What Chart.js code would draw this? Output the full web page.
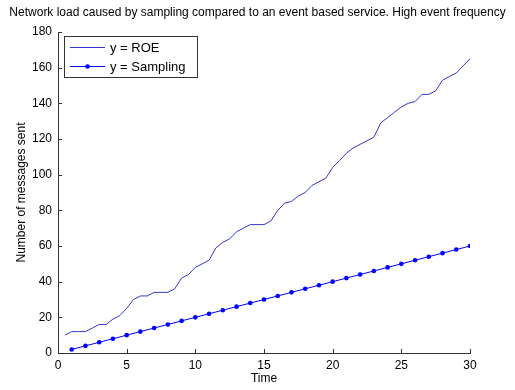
<!DOCTYPE html>
<html>
<head>
<meta charset="utf-8">
<script src="https://cdn.jsdelivr.net/npm/chart.js@4"></script>
<style>
  html, body { margin: 0; padding: 0; background: #fff; }
  #Grafico { display: block; }
</style>
</head>
<body>
<canvas id="Grafico" width="515" height="390"></canvas>
<script>
const Titulo      = 'Network load caused by sampling compared to an event based service. High event frequency';
const EtiquetaX   = 'Time';
const EtiquetaY   = 'Number of messages sent';
const NombreROE   = 'y = ROE';
const NombreMuestreo = 'y = Sampling';

// Serie ROE (cada 0.5)
const TiempoROE = [0.5, 1, 1.5, 2, 2.5, 3, 3.5, 4, 4.5, 5, 5.5, 6, 6.5, 7, 7.5, 8, 8.5, 9, 9.5, 10,
                   10.5, 11, 11.5, 12, 12.5, 13, 13.5, 14, 14.5, 15, 15.5, 16, 16.5, 17, 17.5, 18, 18.5, 19, 19.5, 20,
                   20.5, 21, 21.5, 22, 22.5, 23, 23.5, 24, 24.5, 25, 25.5, 26, 26.5, 27, 27.5, 28, 28.5, 29, 29.5, 30];
const ValoresROE = [10, 12, 12, 12, 14, 16, 16, 19, 21, 25, 30, 32, 32, 34, 34, 34, 36, 42, 44, 48,
                    50, 52, 59, 62, 64, 68, 70, 72, 72, 72, 74, 80, 84, 85, 88, 90, 94, 96, 98, 104,
                    108, 112, 115, 117, 119, 121, 129, 132, 135, 138, 140, 141, 145, 145, 147, 153, 155, 157, 161, 165];

// Serie Sampling
const TiempoMuestreo  = [1, 2, 3, 4, 5, 6, 7, 8, 9, 10, 11, 12, 13, 14, 15, 16, 17, 18, 19, 20,
                         21, 22, 23, 24, 25, 26, 27, 28, 29, 30];
const ValoresMuestreo = [2, 4, 6, 8, 10, 12, 14, 16, 18, 20, 22, 24, 26, 28, 30, 32, 34, 36, 38, 40,
                         42, 44, 46, 48, 50, 52, 54, 56, 58, 60];

const LimitesX = [0, 30, 5];
const LimitesY = [0, 180, 20];

const Fuente     = '"Liberation Sans", Arial, sans-serif';
const ColorEje   = '#333';
const ColorROE   = '#3535d5';
const ColorSerie = '#0000ff';

// Titulo centrado en todo el lienzo
const TituloCentrado = {
  id: 'TituloCentrado',
  afterDraw(Chart_) {
    const { ctx, width } = Chart_;
    ctx.save();
    ctx.fillStyle = '#000';
    ctx.font = `12px ${Fuente}`;
    ctx.textAlign = 'center';
    ctx.textBaseline = 'middle';
    ctx.fillText(Titulo, width / 2, 13, 507);
    ctx.restore();
  }
};

// Marcas hacia adentro, estilo MATLAB
const MarcasInternas = {
  id: 'MarcasInternas',
  afterDatasetsDraw(Chart_) {
    const { ctx, scales: { x, y } } = Chart_;
    ctx.save();
    ctx.strokeStyle = ColorEje;
    ctx.lineWidth = 1;
    ctx.beginPath();
    x.ticks.forEach(T => {
      const Px = Math.round(x.getPixelForValue(T.value)) + 0.5;
      ctx.moveTo(Px, x.top);
      ctx.lineTo(Px, x.top - 4);
    });
    y.ticks.forEach(T => {
      const Py = Math.round(y.getPixelForValue(T.value)) + 0.5;
      ctx.moveTo(y.right, Py);
      ctx.lineTo(y.right + 4, Py);
    });
    ctx.stroke();
    ctx.restore();
  }
};

// Leyenda dentro del area del grafico
const LeyendaInterna = {
  id: 'LeyendaInterna',
  afterDraw(Chart_) {
    const { ctx, chartArea } = Chart_;
    const X = Math.round(chartArea.left) + 6;
    const Y = Math.round(chartArea.top) + 4;
    const W = 133, H = 41;
    ctx.save();
    ctx.fillStyle = '#fff';
    ctx.fillRect(X, Y, W, H);
    ctx.strokeStyle = ColorEje;
    ctx.lineWidth = 1;
    ctx.strokeRect(X + 0.5, Y + 0.5, W, H);
    Chart_.data.datasets.forEach((D, I) => {
      const Fy = Y + 11 + I * 19;
      ctx.strokeStyle = D.borderColor;
      ctx.beginPath();
      ctx.moveTo(X + 6, Fy + 0.5);
      ctx.lineTo(X + 41, Fy + 0.5);
      ctx.stroke();
      if (D.pointRadius > 0) {
        ctx.fillStyle = D.pointBackgroundColor;
        ctx.beginPath();
        ctx.arc(X + 23.5, Fy + 0.5, D.pointRadius, 0, Math.PI * 2);
        ctx.fill();
      }
      ctx.fillStyle = '#000';
      ctx.font = `13px ${Fuente}`;
      ctx.textBaseline = 'middle';
      ctx.textAlign = 'left';
      ctx.fillText(D.label, X + 46, Fy + 1);
    });
    ctx.restore();
  }
};

new Chart(document.getElementById('Grafico').getContext('2d'), {
  type: 'line',
  data: {
    datasets: [
      {
        label: NombreROE,
        data: TiempoROE.map((T, I) => ({ x: T, y: ValoresROE[I] })),
        borderColor: ColorROE,
        borderWidth: 1,
        pointRadius: 0,
        tension: 0
      },
      {
        label: NombreMuestreo,
        data: TiempoMuestreo.map((T, I) => ({ x: T, y: ValoresMuestreo[I] })),
        borderColor: ColorSerie,
        borderWidth: 1,
        pointRadius: 2.3,
        pointBackgroundColor: ColorSerie,
        pointBorderWidth: 0,
        tension: 0
      }
    ]
  },
  options: {
    responsive: false,
    animation: false,
    devicePixelRatio: 1,
    layout: { padding: { left: 0, right: 45, top: 32, bottom: 0 } },
    plugins: {
      legend: { display: false },
      tooltip: { enabled: false },
      title: { display: false }
    },
    scales: {
      x: {
        type: 'linear',
        min: LimitesX[0], max: LimitesX[1],
        afterFit: S => { S.height = 37; },
        ticks: { stepSize: LimitesX[2], color: '#000', padding: 5, font: { family: Fuente, size: 12 } },
        grid: { display: false, drawTicks: false },
        border: { display: true, color: ColorEje, width: 1 },
        title: { display: true, text: EtiquetaX, color: '#000', font: { family: Fuente, size: 12 }, padding: { top: 0, bottom: 4 } }
      },
      y: {
        type: 'linear',
        min: LimitesY[0], max: LimitesY[1],
        afterFit: S => { S.width = 58; },
        ticks: { stepSize: LimitesY[2], color: '#000', padding: 6, font: { family: Fuente, size: 12 } },
        grid: { display: false, drawTicks: false },
        border: { display: true, color: ColorEje, width: 1 },
        title: { display: true, text: EtiquetaY, color: '#000', font: { family: Fuente, size: 12 }, padding: { top: 14, bottom: 0 } }
      }
    }
  },
  plugins: [TituloCentrado, MarcasInternas, LeyendaInterna]
});
</script>
</body>
</html>
